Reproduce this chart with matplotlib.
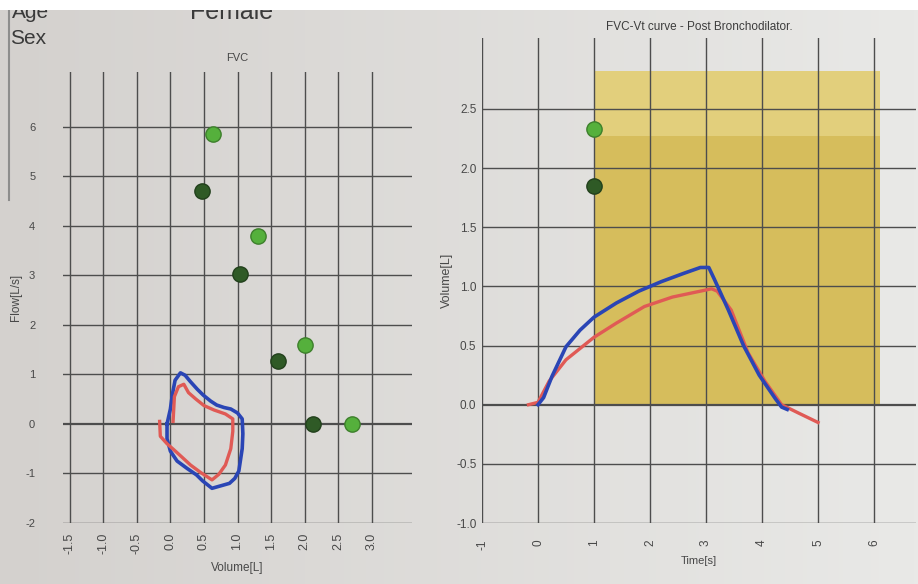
import numpy as np
import matplotlib
matplotlib.use("Agg")
import matplotlib.pyplot as plt
from matplotlib.patches import Rectangle
from matplotlib.lines import Line2D

plt.rcParams['font.family'] = ['Liberation Sans', 'DejaVu Sans']

# ---------------- data ----------------
# Flow-volume loop (left panel)
fv_xticks = [-1.5, -1.0, -0.5, 0.0, 0.5, 1.0, 1.5, 2.0, 2.5, 3.0]
fv_yticks = [-2, -1, 0, 1, 2, 3, 4, 5, 6]

loop_blue_vol = [-0.05, 0.00, 0.03, 0.07, 0.15, 0.22, 0.30, 0.40, 0.49, 0.60, 0.69, 0.80, 0.90, 1.00, 1.07,
                 1.08, 1.07, 1.02, 0.96, 0.88, 0.75, 0.62, 0.48, 0.39, 0.25, 0.10, 0.00, -0.05, -0.05]
loop_blue_flow = [0.00, 0.30, 0.60, 0.88, 1.03, 0.98, 0.85, 0.70, 0.58, 0.46, 0.38, 0.33, 0.30, 0.22, 0.10,
                  -0.20, -0.50, -0.95, -1.10, -1.20, -1.25, -1.30, -1.15, -1.03, -0.90, -0.75, -0.55, -0.30, 0.00]

loop_red_vol = [-0.16, -0.15, -0.05, 0.05, 0.18, 0.30, 0.45, 0.62, 0.72, 0.82, 0.90, 0.93, 0.93,
                0.82, 0.65, 0.50, 0.38, 0.27, 0.20, 0.12, 0.06, 0.04]
loop_red_flow = [0.05, -0.25, -0.40, -0.52, -0.68, -0.83, -0.98, -1.13, -1.02, -0.83, -0.50, -0.15, 0.10,
                 0.20, 0.28, 0.37, 0.50, 0.63, 0.80, 0.75, 0.55, 0.05]

pred_light_vol = [0.63, 1.30, 2.00, 2.70]
pred_light_flow = [5.85, 3.80, 1.60, 0.00]
pred_dark_vol = [0.47, 1.03, 1.60, 2.13]
pred_dark_flow = [4.70, 3.02, 1.27, 0.00]

# Volume-time curve (right panel)
vt_xticks = [-1, 0, 1, 2, 3, 4, 5, 6]
vt_yticks = [-1.0, -0.5, 0.0, 0.5, 1.0, 1.5, 2.0, 2.5]

vt_blue_t = [0.00, 0.10, 0.25, 0.50, 0.75, 1.00, 1.40, 1.80, 2.20, 2.60, 2.90, 3.05, 3.15,
             3.40, 3.67, 3.95, 4.24, 4.35, 4.45]
vt_blue_v = [0.00, 0.06, 0.24, 0.49, 0.63, 0.74, 0.86, 0.96, 1.04, 1.11, 1.16, 1.16, 1.06,
             0.80, 0.50, 0.25, 0.05, -0.02, -0.04]

vt_red_t = [-0.17, 0.00, 0.20, 0.50, 1.00, 1.40, 1.90, 2.40, 2.90, 3.10, 3.20,
            3.45, 3.75, 4.05, 4.35, 4.65, 5.00]
vt_red_v = [0.00, 0.02, 0.20, 0.38, 0.57, 0.69, 0.83, 0.91, 0.96, 0.98, 0.96,
            0.80, 0.44, 0.20, 0.00, -0.07, -0.15]

band_t = [1.0, 6.1]
band_low = 2.27
band_top = 2.82
pred_vt_t = [1.0, 1.0]
pred_vt_v = [2.33, 1.85]

# ---------------- figure ----------------
W, H = 918, 584
fig = plt.figure(figsize=(W / 100, H / 100), dpi=100)

# paper background gradient
bg = fig.add_axes([0, 0, 1, 1])
grad = np.linspace(0, 1, 256)[None, :, None]
c0 = np.array([212, 209, 206]) / 255
c1 = np.array([233, 233, 231]) / 255
img = c0 + (c1 - c0) * grad
bg.imshow(np.repeat(img, 2, axis=0), aspect='auto', extent=[0, 1, 0, 1])
bg.set_axis_off()

def frac(px_left, px_top, px_right, px_bottom):
    return [px_left / W, 1 - px_bottom / H, (px_right - px_left) / W, (px_bottom - px_top) / H]

gridc = '#4d4d4d'
txtc = '#484848'
blue = '#2a45b5'
red = '#e05a55'
light_green = '#55b03c'
dark_green = '#2f5a26'

# ---- left panel ----
ax1 = fig.add_axes(frac(63, 72, 412, 523))
ax1.patch.set_alpha(0)
ax1.set_xlim(-1.6, 3.6)
ax1.set_ylim(-2, 7.1)
for s in ax1.spines.values():
    s.set_visible(False)
for x in fv_xticks:
    ax1.axvline(x, color=gridc, lw=1.0, zorder=1)
for y in fv_yticks:
    ax1.axhline(y, color=gridc, lw=1.6 if y == 0 else 1.0, zorder=1)
ax1.set_xticks(fv_xticks)
ax1.set_xticklabels([f"{v:.1f}" for v in fv_xticks], rotation=90, fontsize=9, color=txtc)
ax1.set_yticks(fv_yticks)
ax1.set_yticklabels([str(v) for v in fv_yticks], fontsize=8, color=txtc)
ax1.tick_params(length=0, pad=20, axis='y')
ax1.tick_params(length=0, pad=7, axis='x')
ax1.set_xlabel("Volume[L]", fontsize=8.5, color=txtc, labelpad=6)
ax1.set_ylabel("Flow[L/s]", fontsize=8.5, color=txtc, labelpad=2)
ax1.set_title("FVC", fontsize=8, color=txtc, pad=8)

ax1.plot(loop_blue_vol, loop_blue_flow, color=blue, lw=2.6, zorder=3, solid_joinstyle='round')
ax1.plot(loop_red_vol, loop_red_flow, color=red, lw=2.4, zorder=3, solid_joinstyle='round')
ax1.plot(pred_light_vol, pred_light_flow, 'o', ms=11, color=light_green, mec='#3d7f2b', mew=1, zorder=4)
ax1.plot(pred_dark_vol, pred_dark_flow, 'o', ms=11, color=dark_green, mec='#22401c', mew=1, zorder=4)

# ---- right panel ----
ax2 = fig.add_axes(frac(482, 38, 916, 523))
ax2.patch.set_alpha(0)
ax2.set_xlim(-1, 6.75)
ax2.set_ylim(-1.0, 3.1)
for s in ax2.spines.values():
    s.set_visible(False)
ax2.fill_between(band_t, 0, band_low, color='#d6bd5c', lw=0, zorder=0.5)
ax2.fill_between(band_t, band_low, band_top, color='#e2cf7c', lw=0, zorder=0.5)
for x in vt_xticks:
    ax2.axvline(x, color=gridc, lw=1.0, zorder=1)
for y in vt_yticks:
    ax2.axhline(y, color=gridc, lw=1.6 if y == 0 else 1.0, zorder=1)
ax2.set_xticks(vt_xticks)
ax2.set_xticklabels([str(v) for v in vt_xticks], rotation=90, fontsize=8.5, color=txtc)
ax2.set_yticks(vt_yticks)
ax2.set_yticklabels([f"{v:.1f}" for v in vt_yticks], fontsize=8.5, color=txtc)
ax2.tick_params(length=0, pad=4, axis='y')
ax2.tick_params(length=0, pad=12, axis='x')
ax2.set_xlabel("Time[s]", fontsize=8, color=txtc, labelpad=4)
ax2.set_ylabel("Volume[L]", fontsize=9, color=txtc, labelpad=2)
ax2.set_title("FVC-Vt curve - Post Bronchodilator.", fontsize=8.5, color='#3c3c3c', pad=6)

ax2.plot(vt_red_t, vt_red_v, color=red, lw=2.4, zorder=3)
ax2.plot(vt_blue_t, vt_blue_v, color=blue, lw=2.6, zorder=3)
ax2.plot(pred_vt_t[:1], pred_vt_v[:1], 'o', ms=11, color=light_green, mec='#3d7f2b', mew=1, zorder=4)
ax2.plot(pred_vt_t[1:], pred_vt_v[1:], 'o', ms=11, color=dark_green, mec='#22401c', mew=1, zorder=4)

# ---- header texts ----
fig.text(12 / W, 1 - 12 / H, "Age", fontsize=15, color='#3a3a3a', va='center', zorder=5)
fig.text(10 / W, 1 - 38 / H, "Sex", fontsize=15, color='#3a3a3a', va='center', zorder=5)
fig.text(232 / W, 1 - 12 / H, "Female", fontsize=18, color='#3a3a3a', ha='center', va='center', zorder=5)

# paper edge line and top white strip
fig.add_artist(Line2D([9 / W, 9 / W], [1 - 200 / H, 1 - 10 / H], color='#707070', lw=1.5, alpha=0.7, zorder=6))
fig.patches.append(Rectangle((0, 1 - 10 / H), 1, 10 / H, transform=fig.transFigure,
                             facecolor='white', edgecolor='none', zorder=10))

fig.savefig("out.png", dpi=100)
